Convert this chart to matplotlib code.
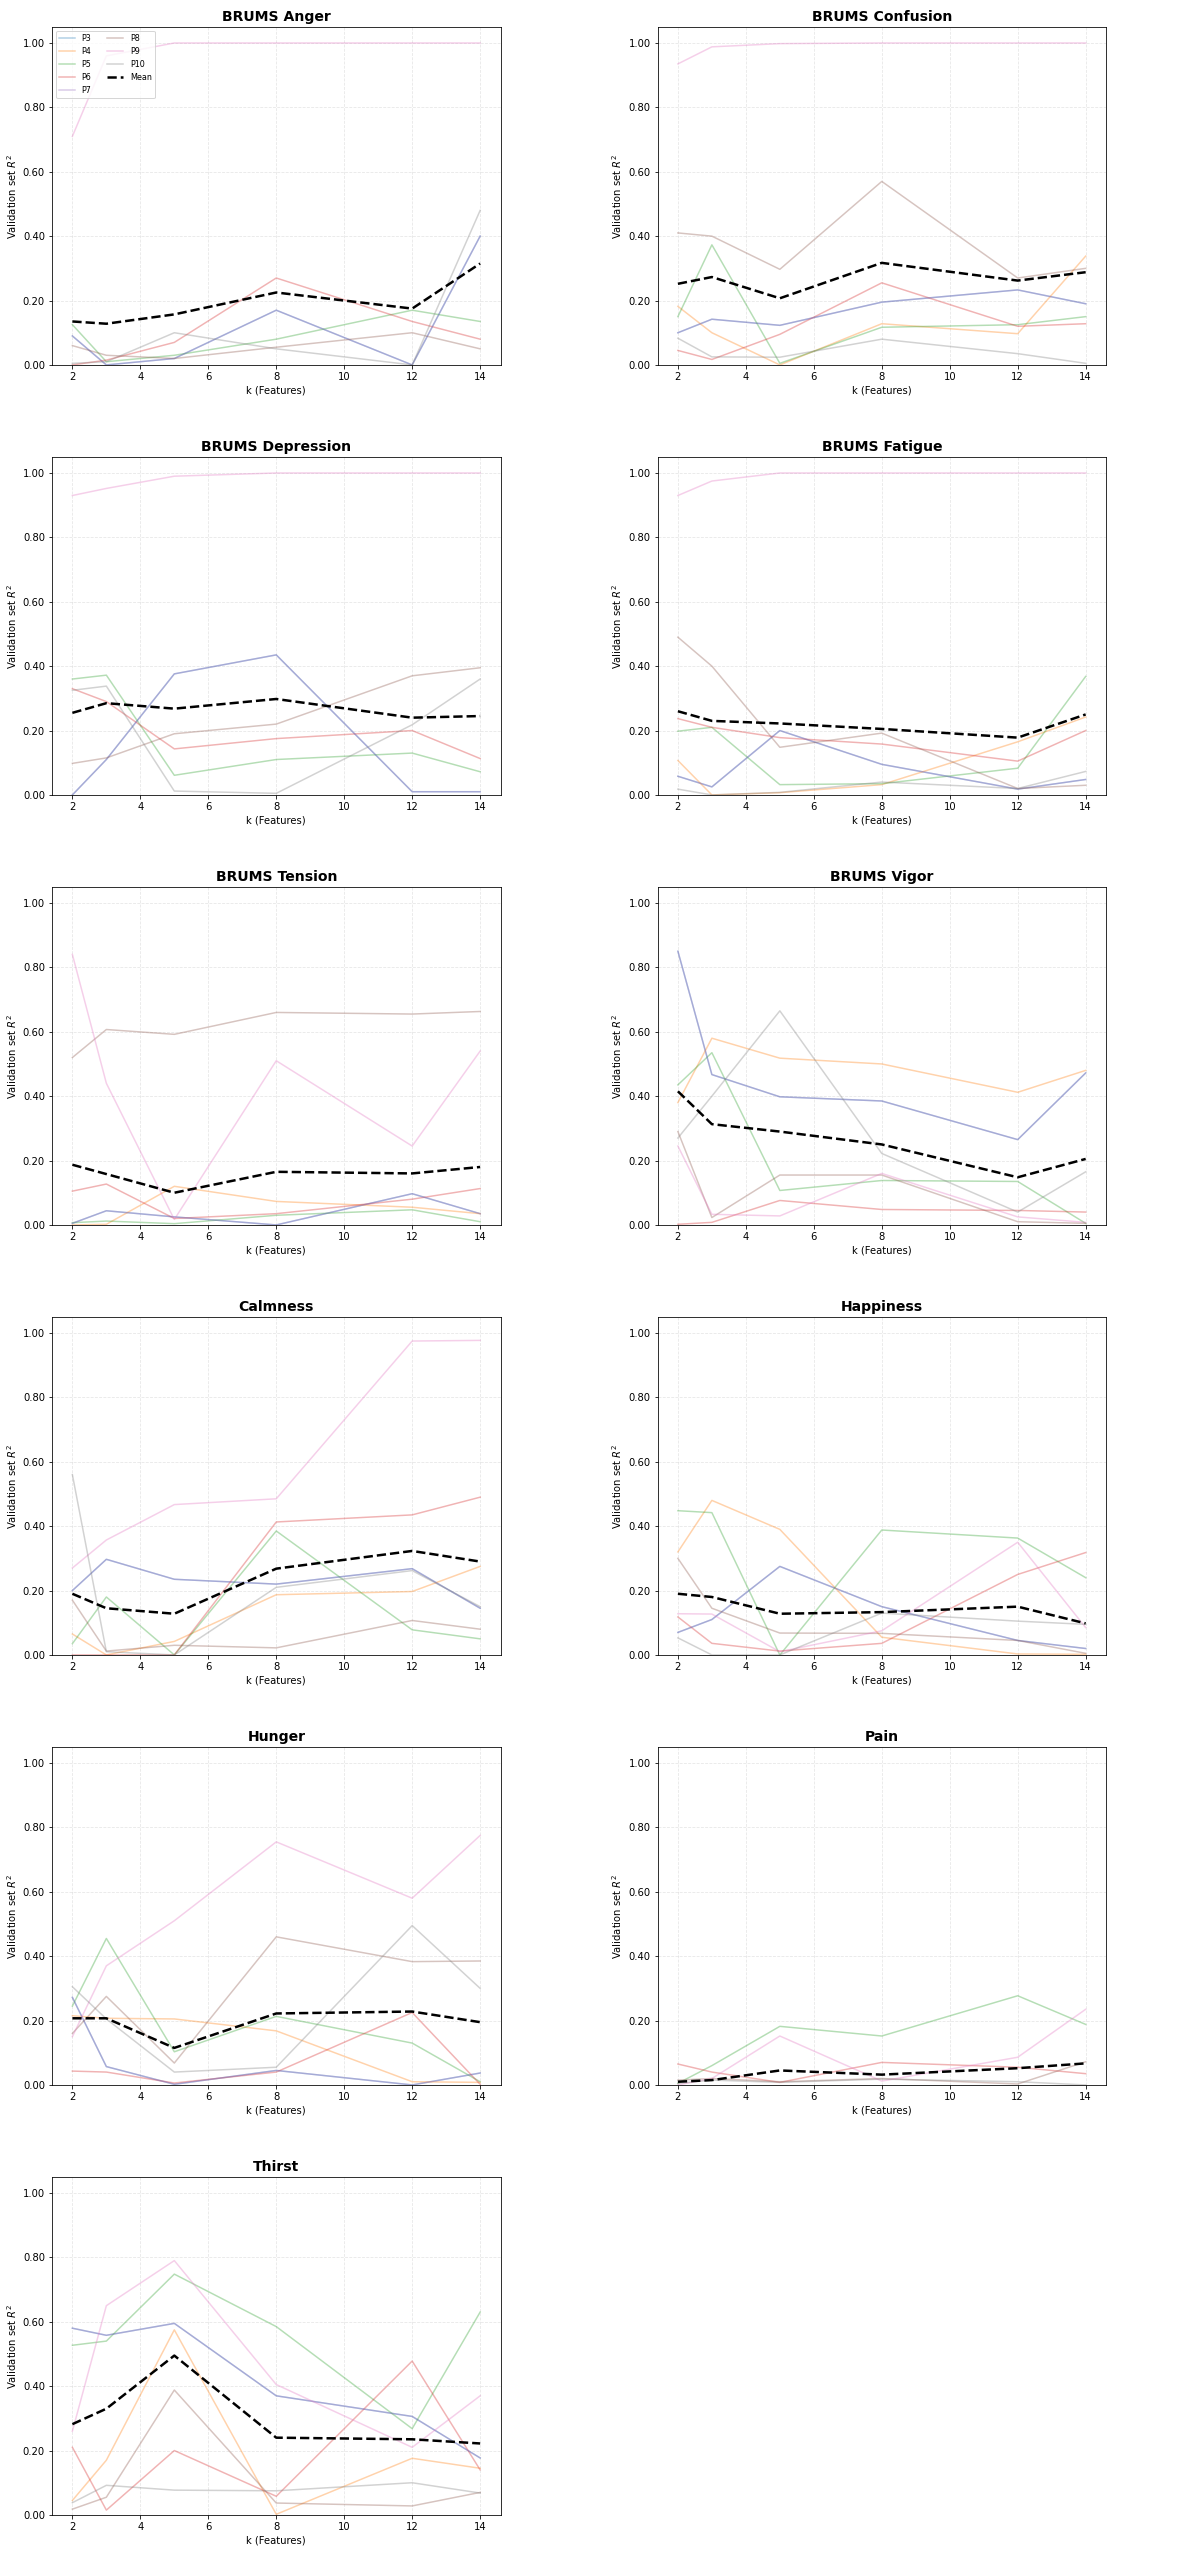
import numpy as np
import matplotlib
matplotlib.use("Agg")
import matplotlib.pyplot as plt
from matplotlib.ticker import FormatStrFormatter

# k values (number of features) on the x axis
k = [2, 3, 5, 8, 12, 14]
participants = ["P3", "P4", "P5", "P6", "P7", "P8", "P9", "P10"]

# values below 0 are negative R^2 and fall outside the plotted range
hidden = [-0.2, -0.2, -0.2, -0.2, -0.2, -0.2]

# rows: P3, P4, P5, P6, P7, P8, P9, P10
anger = [[0.09, 0.0, 0.02, 0.17, 0.0, 0.40],
         hidden,
         [0.125, 0.01, 0.03, 0.08, 0.17, 0.135],
         [0.0, 0.015, 0.07, 0.27, 0.135, 0.08],
         [0.09, 0.0, 0.02, 0.17, 0.0, 0.40],
         [0.06, 0.03, 0.02, 0.055, 0.10, 0.05],
         [0.71, 0.96, 1.0, 1.0, 1.0, 1.0],
         [0.005, 0.01, 0.10, 0.05, 0.0, 0.48]]
anger_mean = [0.135, 0.128, 0.157, 0.225, 0.175, 0.315]

confusion = [[0.10, 0.142, 0.123, 0.195, 0.233, 0.19],
             [0.182, 0.10, 0.0, 0.128, 0.097, 0.338],
             [0.15, 0.373, 0.005, 0.117, 0.125, 0.15],
             [0.045, 0.017, 0.095, 0.255, 0.12, 0.128],
             [0.10, 0.142, 0.123, 0.195, 0.233, 0.19],
             [0.41, 0.40, 0.297, 0.57, 0.27, 0.30],
             [0.935, 0.988, 0.998, 1.0, 1.0, 1.0],
             [0.083, 0.025, 0.024, 0.08, 0.035, 0.005]]
confusion_mean = [0.252, 0.273, 0.207, 0.317, 0.262, 0.288]

depression = [[0.0, 0.11, 0.376, 0.435, 0.01, 0.01],
              hidden,
              [0.36, 0.372, 0.061, 0.11, 0.13, 0.072],
              [0.33, 0.29, 0.143, 0.175, 0.20, 0.113],
              [0.0, 0.11, 0.376, 0.435, 0.01, 0.01],
              [0.098, 0.115, 0.19, 0.22, 0.37, 0.395],
              [0.93, 0.952, 0.99, 1.0, 1.0, 1.0],
              [0.325, 0.338, 0.012, 0.005, 0.218, 0.36]]
depression_mean = [0.255, 0.285, 0.268, 0.298, 0.24, 0.245]

fatigue = [[0.058, 0.025, 0.20, 0.095, 0.018, 0.048],
           [0.107, 0.0, 0.007, 0.032, 0.165, 0.242],
           [0.198, 0.21, 0.032, 0.035, 0.083, 0.368],
           [0.237, 0.21, 0.178, 0.158, 0.105, 0.20],
           [0.058, 0.025, 0.20, 0.095, 0.018, 0.048],
           [0.49, 0.40, 0.148, 0.192, 0.02, 0.03],
           [0.93, 0.975, 1.0, 1.0, 1.0, 1.0],
           [0.018, 0.0, 0.008, 0.04, 0.02, 0.073]]
fatigue_mean = [0.26, 0.23, 0.222, 0.205, 0.178, 0.25]

tension = [[0.005, 0.044, 0.025, 0.0, 0.097, 0.035],
           [0.0, 0.002, 0.12, 0.073, 0.055, 0.035],
           [0.007, 0.012, 0.004, 0.03, 0.047, 0.01],
           [0.105, 0.127, 0.02, 0.035, 0.08, 0.113],
           [0.005, 0.044, 0.025, 0.0, 0.097, 0.035],
           [0.52, 0.607, 0.592, 0.66, 0.655, 0.663],
           [0.84, 0.44, 0.017, 0.51, 0.245, 0.54],
           hidden]
tension_mean = [0.187, 0.158, 0.10, 0.165, 0.16, 0.18]

vigor = [[0.85, 0.467, 0.398, 0.385, 0.265, 0.472],
         [0.38, 0.58, 0.518, 0.50, 0.412, 0.48],
         [0.435, 0.535, 0.107, 0.138, 0.135, 0.005],
         [0.002, 0.008, 0.076, 0.048, 0.045, 0.04],
         [0.85, 0.467, 0.398, 0.385, 0.265, 0.472],
         [0.29, 0.023, 0.155, 0.155, 0.01, 0.005],
         [0.245, 0.033, 0.028, 0.16, 0.025, 0.008],
         [0.27, 0.40, 0.665, 0.222, 0.04, 0.165]]
vigor_mean = [0.415, 0.313, 0.29, 0.25, 0.148, 0.205]

calmness = [[0.20, 0.297, 0.235, 0.22, 0.268, 0.145],
            [0.065, 0.0, 0.042, 0.187, 0.197, 0.275],
            [0.035, 0.18, 0.0, 0.385, 0.078, 0.05],
            [0.0, 0.0, 0.0, 0.413, 0.435, 0.49],
            [0.20, 0.297, 0.235, 0.22, 0.268, 0.145],
            [0.17, 0.012, 0.03, 0.022, 0.107, 0.08],
            [0.27, 0.357, 0.467, 0.485, 0.975, 0.977],
            [0.56, 0.01, 0.0, 0.21, 0.262, 0.15]]
calmness_mean = [0.19, 0.145, 0.128, 0.268, 0.323, 0.29]

happiness = [[0.07, 0.11, 0.275, 0.15, 0.045, 0.02],
             [0.32, 0.48, 0.39, 0.055, 0.003, 0.002],
             [0.448, 0.442, 0.0, 0.388, 0.363, 0.24],
             [0.118, 0.036, 0.012, 0.036, 0.25, 0.318],
             [0.07, 0.11, 0.275, 0.15, 0.045, 0.02],
             [0.30, 0.145, 0.068, 0.067, 0.045, 0.005],
             [0.128, 0.127, 0.01, 0.075, 0.35, 0.085],
             [0.053, 0.0, 0.0, 0.13, 0.105, 0.095]]
happiness_mean = [0.19, 0.18, 0.128, 0.133, 0.15, 0.098]

hunger = [[0.272, 0.057, 0.002, 0.045, 0.0, 0.037],
          [0.215, 0.207, 0.205, 0.168, 0.01, 0.008],
          [0.245, 0.455, 0.103, 0.213, 0.13, 0.01],
          [0.043, 0.04, 0.006, 0.04, 0.225, 0.002],
          [0.272, 0.057, 0.002, 0.045, 0.0, 0.037],
          [0.16, 0.275, 0.068, 0.46, 0.383, 0.385],
          [0.15, 0.37, 0.51, 0.755, 0.58, 0.775],
          [0.305, 0.205, 0.04, 0.055, 0.495, 0.30]]
hunger_mean = [0.207, 0.207, 0.115, 0.222, 0.228, 0.195]

pain = [hidden,
        hidden,
        [0.005, 0.06, 0.182, 0.152, 0.277, 0.188],
        [0.065, 0.04, 0.008, 0.07, 0.055, 0.035],
        hidden,
        [0.015, 0.02, 0.01, 0.02, 0.003, 0.072],
        [0.0, 0.02, 0.152, 0.012, 0.086, 0.235],
        [0.005, 0.015, 0.008, 0.018, 0.01, 0.0]]
pain_mean = [0.01, 0.015, 0.045, 0.032, 0.052, 0.067]

thirst = [[0.58, 0.558, 0.595, 0.37, 0.306, 0.177],
          [0.045, 0.17, 0.575, 0.002, 0.176, 0.145],
          [0.527, 0.54, 0.748, 0.585, 0.268, 0.63],
          [0.21, 0.015, 0.20, 0.058, 0.478, 0.14],
          [0.58, 0.558, 0.595, 0.37, 0.306, 0.177],
          [0.018, 0.055, 0.388, 0.037, 0.028, 0.07],
          [0.26, 0.65, 0.79, 0.405, 0.21, 0.37],
          [0.038, 0.092, 0.077, 0.075, 0.10, 0.068]]
thirst_mean = [0.282, 0.33, 0.495, 0.24, 0.235, 0.222]

titles = ["BRUMS Anger", "BRUMS Confusion", "BRUMS Depression", "BRUMS Fatigue",
          "BRUMS Tension", "BRUMS Vigor", "Calmness", "Happiness",
          "Hunger", "Pain", "Thirst"]
all_data = [anger, confusion, depression, fatigue, tension, vigor,
            calmness, happiness, hunger, pain, thirst]
all_means = [anger_mean, confusion_mean, depression_mean, fatigue_mean,
             tension_mean, vigor_mean, calmness_mean, happiness_mean,
             hunger_mean, pain_mean, thirst_mean]

colors = plt.rcParams["axes.prop_cycle"].by_key()["color"]

fig, axes = plt.subplots(6, 2, figsize=(1187 / 72, 2560 / 72), dpi=72)
fig.subplots_adjust(left=0.0438, right=0.9318, top=0.9895, bottom=0.0176,
                    wspace=0.35, hspace=0.272)
axes = axes.flatten()

for i, ax in enumerate(axes):
    if i >= len(titles):
        ax.remove()
        continue
    for j, name in enumerate(participants):
        ax.plot(k, all_data[i][j], color=colors[j], alpha=0.35, lw=1.5, label=name)
    ax.plot(k, all_means[i], color="black", ls="--", lw=2.5, label="Mean")
    ax.set_title(titles[i], fontsize=14, fontweight="bold")
    ax.set_xlabel("k (Features)")
    ax.set_ylabel("Validation set $R^2$")
    ax.set_ylim(0, 1.05)
    ax.set_xticks([2, 4, 6, 8, 10, 12, 14])
    ax.yaxis.set_major_formatter(FormatStrFormatter("%.2f"))
    ax.grid(True, ls="--", alpha=0.3)
    if i == 0:
        ax.legend(loc="upper left", ncol=2, fontsize=8)

fig.savefig("out.png", dpi=72)
